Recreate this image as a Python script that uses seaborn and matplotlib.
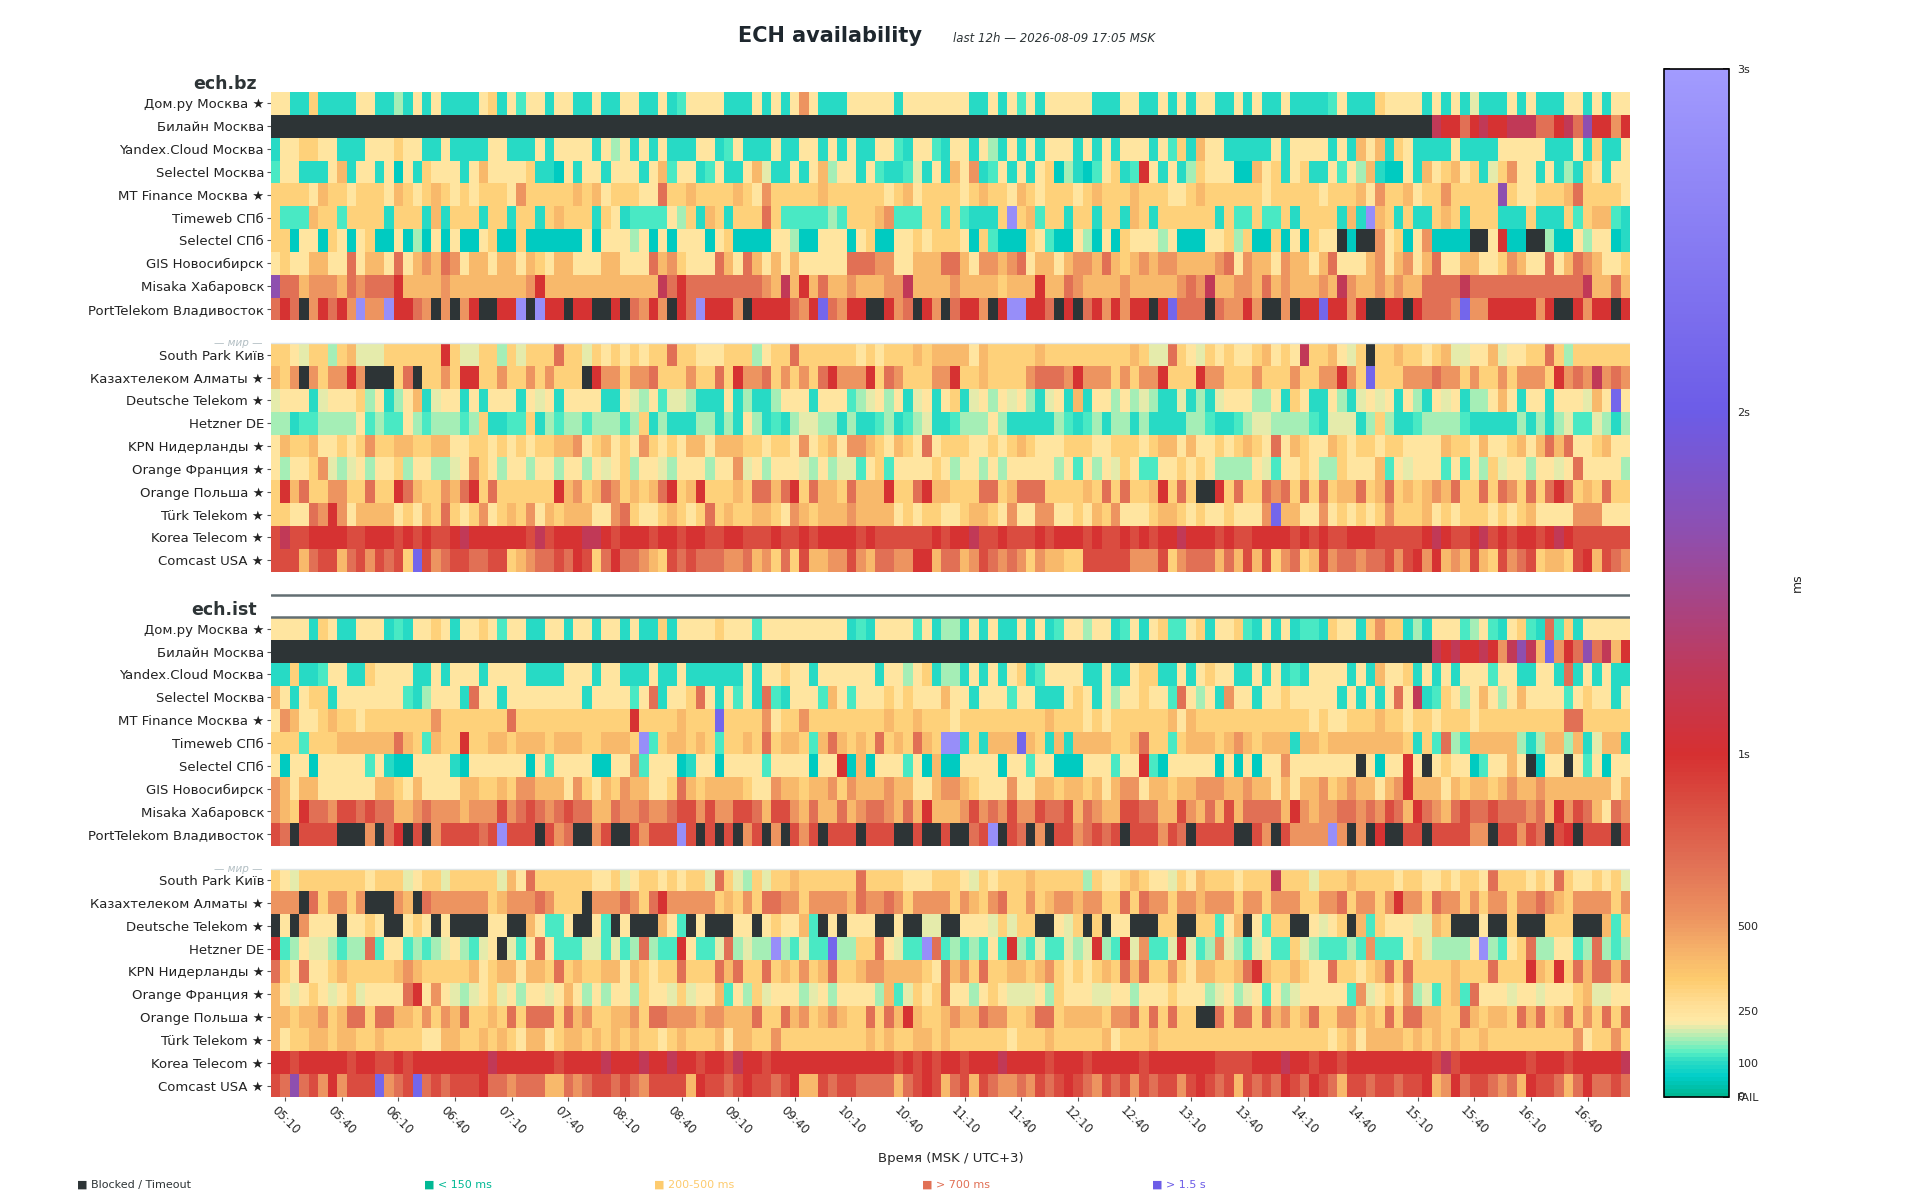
import numpy as np
import pandas as pd
import matplotlib
matplotlib.use("Agg")
import matplotlib.pyplot as plt
import matplotlib.transforms as mtransforms
from matplotlib.colors import LinearSegmentedColormap, ListedColormap
import seaborn as sns

# 1. DATA (one char per 5-min cell)
TITLE = "ECH availability"
SUBTITLE = "last 12h — 2026-08-09 17:05 MSK"
SECTIONS = ["ech.bz", "ech.ist"]

RU_LABELS = ["Дом.ру Москва ★", "Билайн Москва", "Yandex.Cloud Москва", "Selectel Москва",
             "MT Finance Москва ★", "Timeweb СПб", "Selectel СПб", "GIS Новосибирск",
             "Misaka Хабаровск", "PortTelekom Владивосток"]
WORLD_LABELS = ["South Park Київ", "Казахтелеком Алматы ★", "Deutsche Telekom ★", "Hetzner DE",
                "KPN Нидерланды ★", "Orange Франция ★", "Orange Польша ★", "Türk Telekom ★",
                "Korea Telecom ★", "Comcast USA ★"]

TIME_LABELS = ["05:10", "05:40", "06:10", "06:40", "07:10", "07:40", "08:10", "08:40",
               "09:10", "09:40", "10:10", "10:40", "11:10", "11:40", "12:10", "12:40",
               "13:10", "13:40", "14:10", "14:40", "15:10", "15:40", "16:10", "16:40"]

# latency class of a cell -> ms ; X = blocked / timeout
CODE_MS = {"T": 55, "t": 95, "g": 125, "l": 170, "k": 200, "y": 245, "o": 320, "a": 410,
           "r": 520, "s": 680, "q": 860, "R": 990, "m": 1230, "p": 1650, "P": 2150, "v": 2800}

BZ_RU = [
    "yyttotttty" "yttltytytt" "ttyotygyyt" "yyttyttyyt" "tytgyyyytt" "tytytyrytt" "tyyyyytyyyyy"
    "yyttytygyt" "yyyyytttyy" "ttytytyytt" "ytyttytttt" "gytttoyyyy" "tytytkttty" "tytttyytytyy",
    "X" * 123 + "mRRsRmRRmmmssRmspRRrR",
    "tyyooyyttt" "yyyoyyttyt" "tttyytttyt" "yyyytylyty" "tytttyytgy" "tttyttyyty" "tyttyygtyygt"
    "yytyltytyt" "yyytytytyy" "ytygotayyt" "ttttytyyyy" "tytayatoyt" "tttyttttyy" "yyytttytotty",
    "gyytttyaty" "ytyTytoyyy" "tyayyyyott" "Tytyytyyyt" "yagyytgytt" "yakttytyal" "yytygttgktyt"
    "ayrtgytyty" "oTltTgyotg" "Rytytloyyy" "TTayotyott" "ygylatTTyt" "ayoayotkor" "yytytltoytyy",
    "ooooyaooyo" "ooyaoyoaoy" "oyoooyrooo" "ooaoayoooy" "ysooaooooa" "oyroooooao" "oooooyoayooo"
    "oyoaooyaoy" "oooyoaoooa" "oooyyoaooo" "oooyoooooy" "oooayrooay" "oorooooopo" "yyoooasooooy",
    "ogggaoogoo" "ootoootato" "ootootooto" "aoootoytgg" "ggylotaoto" "oosogggggl" "goooargggoog"
    "ogtttovoag" "ootootoota" "otooooooto" "ggoggotooo" "otatvaotot" "toaotooott" "totttogoaagt",
    "ooTyyToyTy" "oTTyTlTyTy" "TTyoTToTTT" "TTTyTyyyly" "TyTyyyTyoT" "TTTyylTTyy" "yTyoTTyyoyoo"
    "oyTogTTToy" "gTTylTyToy" "yylyTTTyyo" "loTToTyToy" "yXTXXryoTy" "rTTTTXXyRT" "TXXlTTylyyTt",
    "yoyyaayysy" "aaysyarasr" "yaayaayaoy" "aayyyaayyy" "saroyyysay" "sayayayyyy" "ysssrryyaaas"
    "sayrrarsya" "ayarrasaoa" "rarraaaars" "yraayraaya" "syyyaryary" "asyyaayyor" "ayysyasrayyo",
    "pssarrrasr" "sssRaaaara" "aaaaaaarRa" "aaaaaaaaaa" "amsRssssss" "ssramaRasa" "araaarrmaaaa"
    "raaaaoaaaR" "aasraaaara" "aaaarsrmaa" "rrasaraaar" "amraararaa" "ssssmsssss" "sssssssmaasa",
    "sRsXrRsRrv" "rrvRRsrXrX" "rRXXRRvXvR" "RXRRXXRXsr" "RrXRsvRRRr" "XRRRRsrRPs" "rRRXXRrsXRrX"
    "sRRrXRvvRR" "sXRXsRrRrR" "RXRPsssXsr" "rRrXXrXRRP" "RRrRXXRRXR" "sssrPrrRRR" "RRrRXXRrRRXR",
]

BZ_WORLD = [
    "ooykooloak" "kkooooooRo" "kkoolokooo" "sookoyoyoy" "oosooyyyoo" "olyoosoooo" "ooyoyoooaoaa"
    "aayaoooooa" "oooooooooa" "okksoykoyo" "yyoayoymoo" "aykoXooaoo" "yoakkyyaky" "yoosoloooooo",
    "aorXrorrRr" "XXXosXooro" "RRoorooror" "oooXRrrorr" "soooroosoR" "rrsororosR" "rrrRosrooorr"
    "Rooaoooors" "ssrRrrroro" "rrRoooRrro" "ooroooroor" "rRroPooorr" "rsrrorooro" "rrroRrsrmrsr",
    "kyyytkyyyo" "lytlyatkyy" "tytyyytyky" "tyyyyttykl" "ygkkltttyt" "lttlyyytyy" "yglkylytkyty"
    "otkylykylt" "kytatyylyl" "klttktltky" "yyllytoytt" "yltkykytyl" "tykytllyay" "tyytyyykayPy",
    "lltgglllly" "glggylglll" "glottggotl" "gllglllglo" "tltttlltlt" "yltgtlkkll" "tlttgltglktt"
    "glllyltttt" "tlgtgltllt" "lttttllgtt" "glkkllllgt" "kkktlolttg" "llllgttttt" "ltltlkggkltl",
    "yaooayyoyo" "rooaaooaay" "yooyoyoyoo" "aaryoayoyr" "oyoyaayaaa" "ooyooyryoa" "yrraoyaoysyo"
    "ooyyoyoaoy" "yyoooyyooo" "yoaayayyoy" "oaoysyaoyy" "aoyooyooyy" "yyaooyayyo" "ayasasyyoayy",
    "ylyyorklky" "lyyolyyllk" "yroylyylyy" "lyylykyoly" "yklyyylyyr" "kylyyyklyl" "kkgyogyyyyoy"
    "lyylylyyyy" "ylygylykoy" "ggyyoyoyll" "llykgyyoyl" "loyyyagyky" "yygygyloky" "ylyykysyyyyl",
    "oRasoorroo" "sooRsaoora" "sRosoooooo" "Raroasroao" "asRoaRoooa" "ossasRosaa" "osaaaRoosRaa"
    "ooossoasss" "ooooaososo" "oaRosoXXRo" "soosrsosos" "oaasoasoao" "arasoososr" "ososRsoaosoo",
    "ooyysrRrya" "aaayoyaoso" "yoryoaorya" "oaaayyrsoy" "yoaoyosoao" "oaaoyraoaa" "araaaayoyooy"
    "yoaaoyryyr" "ryyoyaoryy" "yoaaoyoyyo" "yyyrPaayyr" "yoyoyorooo" "ayoyoooyoy" "oayyyyrrryyy",
    "qmqqRRRRqq" "RRRqRqRqqR" "mRRRRRRqmq" "RRRmmRqRRR" "qRRqRRqqRR" "qqqRqqRqRR" "RRqRqqqqqqRq"
    "RRmqqRqqqR" "qRRRqRqqRq" "RqRRmRRRqR" "qqRRRRqRqR" "qqRRRqqqqq" "RmRqqRmqRq" "RRqRmRqqqqqq",
    "qqqasqqasq" "rqsqoPqrsq" "qssqqoarss" "qsRqosRssr" "aoqsqsssrr" "sarosoqaar" "rqrassrrRRas"
    "sarqsrsror" "aaooqqqqqr" "rrqorsssas" "aqaqorsoaq" "rssrssqrqR" "rRaraqaoqr" "sqoaaoqRaqsr",
]

IST_RU = [
    "yyyytoytty" "yytgtyyoyt" "yyoygyytty" "ytyytyytyt" "totyyyyoyy" "ygyyyyyyyy" "ytgtyyyygytl"
    "ltytyttyty" "tgyylyytgy" "tyoggyotyy" "ogtytytggt" "oyytorootl" "tyyyglygty" "ogtsgotyyyyy",
    "X" * 123 + "mRmRRmRrmpmaPrRspsmaR",
    "ttottgyytt" "oyyyyttyty" "yytyyyyttt" "tyyytyyttt" "yttytttttt" "ytyyoyytyy" "yyyytyylyotl"
    "ltytytyotg" "yyyyttytty" "oottytyoyy" "ttytytgtyy" "yytytayyot" "ytytyyygyy" "ttyytstytytt",
    "aytyootyyy" "yyyygtlyyy" "tsyytyyyyy" "yyytyyyygy" "styyosytyg" "ytsgtyyyga" "ygyyyoyoyyya"
    "yytyyygyyt" "ttyoytylyy" "oyygsylytr" "yytyyoyyyy" "ytytytysym" "tgoylyayly" "ayyyygyoyyty",
    "yrayyoaooy" "oooooooroo" "ooooosoooo" "ooooooooRo" "oooaoooPoo" "ooryoorooo" "oooooaooaooo"
    "yooooooooo" "aoooyoyooo" "oooayaoooo" "ooooooooyo" "yyoooaooyo" "oyoooyoooo" "ooooossooooo",
    "ooogoooaaa" "aaasaogaoo" "Rooaaoaaao" "aaaooaaaov" "goaaoaogoo" "aosoaaogas" "aoaosoaosaov"
    "vtotaaaPao" "tataaaaooa" "soogoaaaoa" "raoaaataao" "aaaaaaaaot" "ogslgaaaaa" "ltlaalatkaat",
    "yTyyTyyyyy" "gytTTyyyyt" "TyyyyyyTyg" "yyyyTTyyrg" "yyyTtyyTyy" "yygyyyyTyy" "RTaTyyygyTaT"
    "TyyyyTyygy" "yTTTyyygyy" "RgTyyyyyTy" "TyTyyryyyy" "yyyXyTyyRy" "XyoyyTgyya" "yXTyyXygyTyy",
    "rayaayyyyy" "yaaoyayyyy" "aaooaorraa" "ayroyaoraa" "yyosaoaaaa" "oyyraaoaar" "oraaaraayyar"
    "raoyyyryya" "aoaaoayarr" "yaaoaarrra" "araayayaar" "oaraayarRa" "aayaoaaoar" "aaraaaaaaaya",
    "raoRssrqqs" "qssaarsrrr" "arrrqrsqsr" "sqssaasrrs" "rrsqqrqrrq" "qsaqqrasaa" "sarssrasaRaa"
    "arqrsrqrrq" "ssqasraaqq" "ssaaqrasaq" "assssaRrar" "rssrsrqsaR" "srasqssqss" "srsaRrqsaysr",
    "qsXqqqqXXX" "rXsRXqXrqq" "qqsqvqqqXq" "rsXXrqXXqr" "qqqvqXqXqX" "rqXrXqrqXq" "qqXqqqXXqXXq"
    "XXsqvXqsXr" "XqqrsqsqXq" "qqrqsXqqqq" "XXqrXqrrrr" "vrXrXRXXqq" "XqqqqrrXqq" "rqsXqRXqqqXq",
]

IST_WORLD = [
    "oykooooooo" "yoookyooko" "ooookaysoo" "ooooyyokyo" "oyoyooksok" "lokooaoooo" "oosooooyyyoo"
    "oykoyoooao" "ooooloyyoa" "oyykoyaooo" "yooomoooko" "ooaooooyoo" "yyoyooysoo" "oyoysoyyoyok",
    "rrrXsorror" "XXXraXsrrr" "rrroarrrsr" "oooXrrrsro" "sRrrrrroao" "rossrrorrr" "rasrrsrorrrr"
    "oraorsooro" "arrarrooso" "srrorrarrr" "orrorrroor" "rsorrorRrr" "osrrororro" "rrsraorrrror",
    "XyXryyyXyy" "oyXXyoyXyX" "XXXyyXXayg" "gyXXygXyXX" "XaygXyXXXy" "yXyoyyagXy" "XyyyXXyXXkkX"
    "XyyykokooX" "XykoXoXyyX" "XXooXXoogy" "aXygooXXyk" "yoXagoyyyk" "kaoXXXyXXo" "XXXoooXXXago",
    "Rglykklgll" "sgyyglglky" "lgkyXkgysy" "gggkkgkgls" "lggRyggksl" "kllvlgkggP" "lloosykggvsg"
    "lglgygRlgk" "ggklkRlgRk" "rggkRkglrk" "lgkyggoklg" "gglgrgggyo" "kllllyvlgy" "osllyyglslgl",
    "soysyyoaoo" "oooaraoooo" "oayoaayaao" "soaooaayao" "yoosooosas" "oosoaoroas" "ooarraaaaoys"
    "arosooaaoa" "royoyoaosa" "sooroyaaoo" "asRaooaoyy" "sooyoasoso" "oooaooosoo" "oRaoRosassas",
    "aykyoykyok" "yyyysRyryk" "lkyokylyyk" "yaylylyylo" "yykokyyagy" "lokyyylkyl" "yyyylagkoyos"
    "yylyoykkky" "loyyykkyyl" "yyyoyyylky" "lkygylkyyy" "yygrkyoyrl" "kgoagsyyyk" "yykyyyoakkyy",
    "aaoaaroass" "ossaaorora" "sooaososss" "osarooaaro" "ssrrrarraa" "asoosaroar" "aoososaRaooa"
    "raasrrooas" "soaaaaorrs" "ososooXXso" "ssosaroaso" "orroaososs" "aaoosaoaao" "sasoasorosos",
    "ayooaaoaao" "oaooooyyaa" "ooaoaoyaay" "oaaoaoaoao" "oyoaoooaya" "aooroooooo" "oooaoaooaaoa"
    "ooooooyooo" "aoooooayoo" "oaoooooooo" "oooooooooo" "yoayaaaaoa" "oaoaooaooo" "ooooooryooro",
    "RRqRRRRRqR" "RqqRqRRRRR" "RRRmRRRRRR" "qRRRRmRRRm" "RRmRRqRRqm" "RRqRRRRRRR" "RRRRRRqRqRqR"
    "RqRRRmRRRR" "qRRRqRRRRR" "qRRRRRRRqq" "qqRRRmRRqR" "RqRRRRRRRR" "RqmqRRRRRR" "RqRRRqRRRRRm",
    "qspsqrRrqq" "qPrsqPsqsq" "qqRssrsssa" "asrsqqsqsr" "qqqqaRqqsq" "RqqsqRaaqs" "qqssssasqRqa"
    "sqaqsrrsrq" "sqRqsrqsqr" "qsqqrqRqsq" "aqsqsRqsRq" "saqqsqqsqq" "RarRsqqsrs" "aRqqsasRssqs",
]

CB_TICKS = [0, 100, 250, 500, 1000, 2000, 3000]
CB_LABELS = ["FAIL", "100", "250", "500", "1s", "2s", "3s"]

LEGEND = [("■ Blocked / Timeout", "#2d3436"), ("■ < 150 ms", "#00b894"),
          ("■ 200-500 ms", "#fdcb6e"), ("■ > 700 ms", "#e17055"), ("■ > 1.5 s", "#6c5ce7")]
LEGEND_X = [77, 424, 654, 922, 1152]

# 2. BUILD MATRIX (gap rows between blocks stay empty)
slots = pd.date_range("2026-08-09 05:05", periods=144, freq="5min").strftime("%H:%M")
rows, labels = [], []
for ru, world in ((BZ_RU, BZ_WORLD), (IST_RU, IST_WORLD)):
    if rows:
        rows += [None, None]
        labels += ["", ""]
    rows += ru + [None] + world
    labels += RU_LABELS + [""] + WORLD_LABELS

def decode(s):
    if s is None:
        return [np.nan] * len(slots), [False] * len(slots)
    if len(s) != len(slots):
        print("row length", len(s))
        s = (s + s[-1] * len(slots))[:len(slots)]
    return [CODE_MS.get(c, np.nan) for c in s], [c == "X" for c in s]

dec = [decode(r) for r in rows]
lat = pd.DataFrame([d[0] for d in dec], columns=slots)
blocked = pd.DataFrame([d[1] for d in dec], columns=slots)

cmap = LinearSegmentedColormap.from_list("ech", [
    (0.0, "#00b894"), (55 / 3000, "#00cec9"), (100 / 3000, "#2ddcc4"), (125 / 3000, "#55efc4"),
    (170 / 3000, "#b0eeb4"), (215 / 3000, "#ffeaa7"), (270 / 3000, "#ffdd94"),
    (340 / 3000, "#fdcb6e"), (420 / 3000, "#f6b36a"), (520 / 3000, "#ed9360"),
    (680 / 3000, "#e17055"), (850 / 3000, "#da4e41"), (1000 / 3000, "#d63031"),
    (1250 / 3000, "#bf3a5c"), (1650 / 3000, "#8e4fb0"), (2000 / 3000, "#6c5ce7"),
    (1.0, "#a29bfe")])

# 3. PLOT
sns.set_theme(style="ticks")
plt.rcParams["font.family"] = ["DejaVu Sans"]
fig = plt.figure(figsize=(19.2, 12), dpi=100)
ax = fig.add_axes([271 / 1920, 1 - 1097 / 1200, 1359 / 1920, 1005 / 1200])
cax = fig.add_axes([1664 / 1920, 1 - 1097 / 1200, 65 / 1920, 1028 / 1200])

sns.heatmap(lat, ax=ax, cmap=cmap, vmin=0, vmax=3000, cbar_ax=cax,
            xticklabels=False, yticklabels=False)
sns.heatmap(blocked.astype(float), mask=~blocked, ax=ax, cbar=False,
            cmap=ListedColormap(["#2d3436"]), xticklabels=False, yticklabels=False)

idx = [i for i, l in enumerate(labels) if l]
ax.set_yticks([i + 0.5 for i in idx])
ax.set_yticklabels([labels[i] for i in idx], rotation=0, fontsize=9.5, color="#222222")
ax.set_xticks([slots.get_loc(t) + 0.5 for t in TIME_LABELS])
ax.set_xticklabels(TIME_LABELS, rotation=-45, ha="center", rotation_mode="default", fontsize=8.5)
ax.tick_params(length=3, width=0.8, color="#555555", pad=2)
ax.set_xlabel("Время (MSK / UTC+3)", fontsize=9.5)
ax.xaxis.set_label_coords(0.5, -0.055)
ax.set_ylabel("")

# sections, separators, world sub-block
trans = mtransforms.blended_transform_factory(ax.transAxes, ax.transData)
ist_top = labels.index(RU_LABELS[0], 1)
for name, top in zip(SECTIONS, [0, ist_top]):
    ax.text(-0.0103, top - 0.34, name, transform=trans, ha="right", va="center",
            fontsize=12.5, fontweight="bold", color="#2d3436")
    w = top + len(RU_LABELS) + 1
    ax.axhline(w, color="#dfe6e9", lw=1)
    ax.text(-0.006, w, "— мир —", transform=trans, ha="right", va="center",
            fontsize=7.5, style="italic", color="#b2bec3")
for y in (ist_top - 1, ist_top):
    ax.axhline(y, color="#636e72", lw=1.8)

# colorbar
cbar = ax.collections[0].colorbar
cbar.set_ticks(CB_TICKS)
cbar.set_ticklabels(CB_LABELS)
cax.tick_params(which="both", direction="in", left=True, right=True, length=4,
                labelsize=8, pad=6)
zero = cax.transAxes + mtransforms.ScaledTranslation(6 / 72, 0, fig.dpi_scale_trans)
cax.text(1, 0, "0", transform=zero, ha="left", va="center", fontsize=8, color="#262626")
cbar.outline.set_edgecolor("black")
cbar.outline.set_linewidth(1.2)
cbar.set_label("ms", fontsize=9, labelpad=22)

# title + legend
fig.text(830 / 1920, 1 - 36 / 1200, TITLE, ha="center", va="center",
         fontsize=15, fontweight="bold", color="#1e272e")
fig.text(953 / 1920, 1 - 39 / 1200, SUBTITLE, ha="left", va="center",
         fontsize=8.5, style="italic", color="#2d3436")
for (txt, col), x in zip(LEGEND, LEGEND_X):
    fig.text(x / 1920, 1 - 1185 / 1200, txt, ha="left", va="center", fontsize=8, color=col)

fig.savefig("out.png", dpi=100)
